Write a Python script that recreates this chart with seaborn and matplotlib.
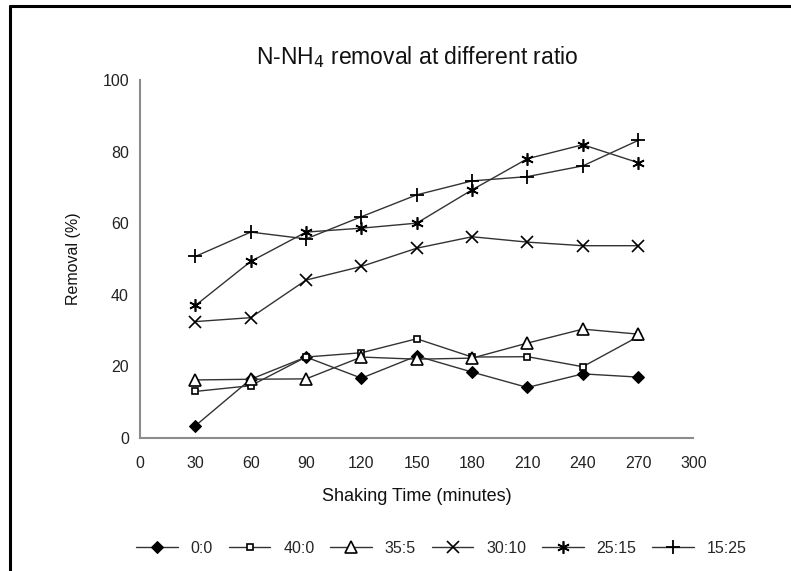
import seaborn as sns
import matplotlib.pyplot as plt
from matplotlib.lines import Line2D
import pandas as pd

# shaking time (minutes)
times = [30, 60, 90, 120, 150, 180, 210, 240, 270]

# removal (%) for each ratio
r_0_0 = [3.4, 16.4, 22.6, 16.7, 22.9, 18.4, 14.1, 17.9, 17.0]
r_40_0 = [13.0, 14.6, 22.6, 23.8, 27.7, 22.6, 22.7, 19.9, 28.3]
r_35_5 = [16.2, 16.4, 16.5, 22.6, 22.0, 22.3, 26.5, 30.4, 29.0]
r_30_10 = [32.5, 33.6, 44.1, 47.9, 53.0, 56.2, 54.7, 53.7, 53.7]
r_25_15 = [37.0, 49.3, 57.5, 58.6, 60.0, 69.3, 78.0, 81.9, 76.9]
r_15_25 = [50.7, 57.5, 55.6, 61.8, 67.9, 71.8, 73.0, 76.0, 83.1]

ratios = ["0:0", "40:0", "35:5", "30:10", "25:15", "15:25"]
series = [r_0_0, r_40_0, r_35_5, r_30_10, r_25_15, r_15_25]

sns.set_style("white")
plt.rcParams["font.family"] = ["Liberation Sans", "DejaVu Sans"]

df = pd.concat(
    [pd.DataFrame({"time": times, "removal": vals, "ratio": name})
     for name, vals in zip(ratios, series)],
    ignore_index=True,
)

# marker styles mimic the old Excel look
marker_styles = {
    "0:0": dict(marker="D", markersize=6, markerfacecolor="black"),
    "40:0": dict(marker="s", markersize=4.5, markerfacecolor="white", markeredgewidth=1.2),
    "35:5": dict(marker="^", markersize=8, markerfacecolor="white", markeredgewidth=1.2),
    "30:10": dict(marker="x", markersize=8, markeredgewidth=1.2),
    "25:15": dict(marker=(6, 2, 0), markersize=9, markeredgewidth=1.2),
    "15:25": dict(marker="+", markersize=10, markeredgewidth=1.3),
}

fig = plt.figure(figsize=(7.91, 5.71), dpi=100)
ax = fig.add_axes([0.177, 0.233, 0.6997, 0.627])

for name in ratios:
    sub = df[df["ratio"] == name]
    sns.lineplot(
        data=sub,
        x="time",
        y="removal",
        ax=ax,
        color="#333333",
        linewidth=1.0,
        markeredgecolor="black",
        label=name,
        **marker_styles[name],
    )

ax.set_xlim(0, 300)
ax.set_ylim(0, 100)
ax.set_xticks(range(0, 301, 30))
ax.set_yticks(range(0, 101, 20))
for side in ["top", "right"]:
    ax.spines[side].set_visible(False)
for side in ["left", "bottom"]:
    ax.spines[side].set_color("#8c8c8c")
    ax.spines[side].set_linewidth(1.5)
ax.tick_params(axis="both", direction="out", length=4, width=1.2,
               color="#555555", labelsize=11.5, labelcolor="#222222", pad=4)
ax.tick_params(axis="x", pad=9)

ax.set_xlabel("Shaking Time (minutes)", fontsize=13, labelpad=12, color="#111111")
ax.set_ylabel("Removal (%)", fontsize=11.5, labelpad=15, color="#111111")
fig.text(0.527, 0.9, r"N-NH$_4$ removal at different ratio", ha="center",
         va="center", fontsize=16.5, color="#111111")

handles, labels = ax.get_legend_handles_labels()
ax.get_legend().remove()
fig.legend(handles, labels, loc="center", bbox_to_anchor=(0.558, 0.04),
           ncol=6, frameon=False, fontsize=11.5, handlelength=2.6,
           columnspacing=1.0, handletextpad=0.8)

# frame lines of the cropped original (top and left only)
fig.add_artist(Line2D([9.5 / 791, 1], [1 - 6 / 571, 1 - 6 / 571],
                      transform=fig.transFigure, color="black", linewidth=2.2))
fig.add_artist(Line2D([9.5 / 791, 9.5 / 791], [0, 1 - 6 / 571],
                      transform=fig.transFigure, color="black", linewidth=2.2))

fig.savefig("out.png", dpi=100)
